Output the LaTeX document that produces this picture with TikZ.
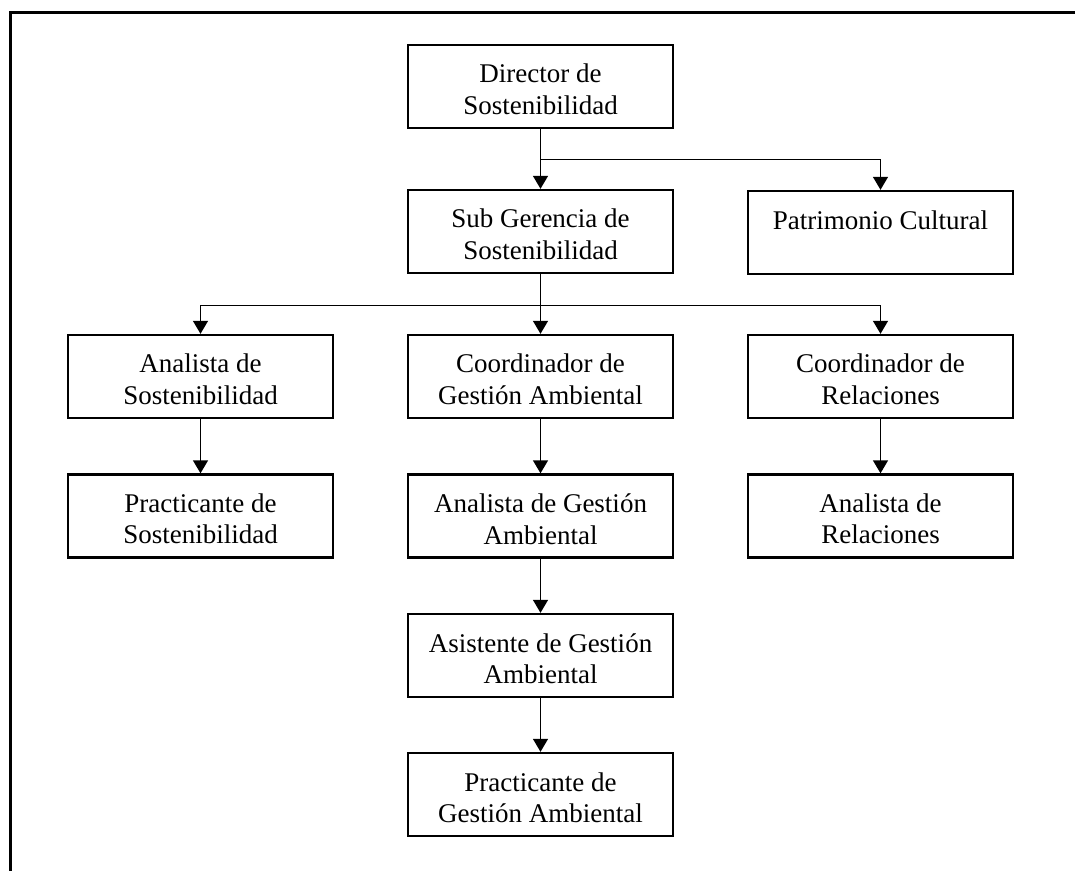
\documentclass[tikz,border=0pt]{standalone}
\usepackage{fontspec}
\setmainfont{Liberation Serif}
\usetikzlibrary{arrows.meta}
% two-line role text, set a little below the box centre
\newcommand\roletext[1]{\parbox[c][80pt][c]{262pt}{\centering\vspace*{6pt}#1}}
\begin{document}
\begin{tikzpicture}[x=1pt,y=-1pt,
  role/.style={draw, line width=2.4pt, minimum width=265pt, minimum height=83pt,
    inner sep=0pt, font=\fontsize{27}{31.5}\selectfont},
  link/.style={line width=1.4pt, -{Triangle[length=13pt,width=15pt]}},
  frame/.style={line width=2.6pt}]
  \useasboundingbox (0,0) rectangle (1075,871);
  % page frame: top and left rules
  \draw[frame] (1075,12.5) -- (10.5,12.5) -- (10.5,871);

  % positions
  \node[role] (dir)  at (540.5,86.5)  {\roletext{Director de\\Sostenibilidad}};
  \node[role] (sub)  at (540.5,231.5) {\roletext{Sub Gerencia de\\Sostenibilidad}};
  \node[role] (pat)  at (880.5,232.5) {\roletext{Patrimonio Cultural\\\mbox{}}};

  \node[role] (ana)  at (200.5,376.5) {\roletext{Analista de\\Sostenibilidad}};
  \node[role] (cga)  at (540.5,376.5) {\roletext{Coordinador de\\Gestión Ambiental}};
  \node[role] (crel) at (880.5,376.5) {\roletext{Coordinador de\\Relaciones}};

  \node[role] (pso)  at (200.5,516)   {\roletext{Practicante de\\Sostenibilidad}};
  \node[role] (aga)  at (540.5,516)   {\roletext{Analista de Gestión\\Ambiental}};
  \node[role] (arel) at (880.5,516)   {\roletext{Analista de\\Relaciones}};

  \node[role] (asi)  at (540.5,655.5) {\roletext{Asistente de Gestión\\Ambiental}};
  \node[role] (pga)  at (540.5,794.5) {\roletext{Practicante de\\Gestión Ambiental}};

  % reporting lines
  \path (dir.south) ++(0,30) coordinate (j1);
  \path (sub.south) ++(0,31) coordinate (j2);

  \draw[link] (dir) -- (sub);
  \draw[link] (j1) -| (pat.north);

  \draw[link] (sub) -- (cga);
  \draw[link] (j2) -| (ana.north);
  \draw[link] (j2) -| (crel.north);

  \draw[link] (ana) -- (pso);
  \draw[link] (cga) -- (aga);
  \draw[link] (crel) -- (arel);
  \draw[link] (aga) -- (asi);
  \draw[link] (asi) -- (pga);
\end{tikzpicture}
\end{document}
